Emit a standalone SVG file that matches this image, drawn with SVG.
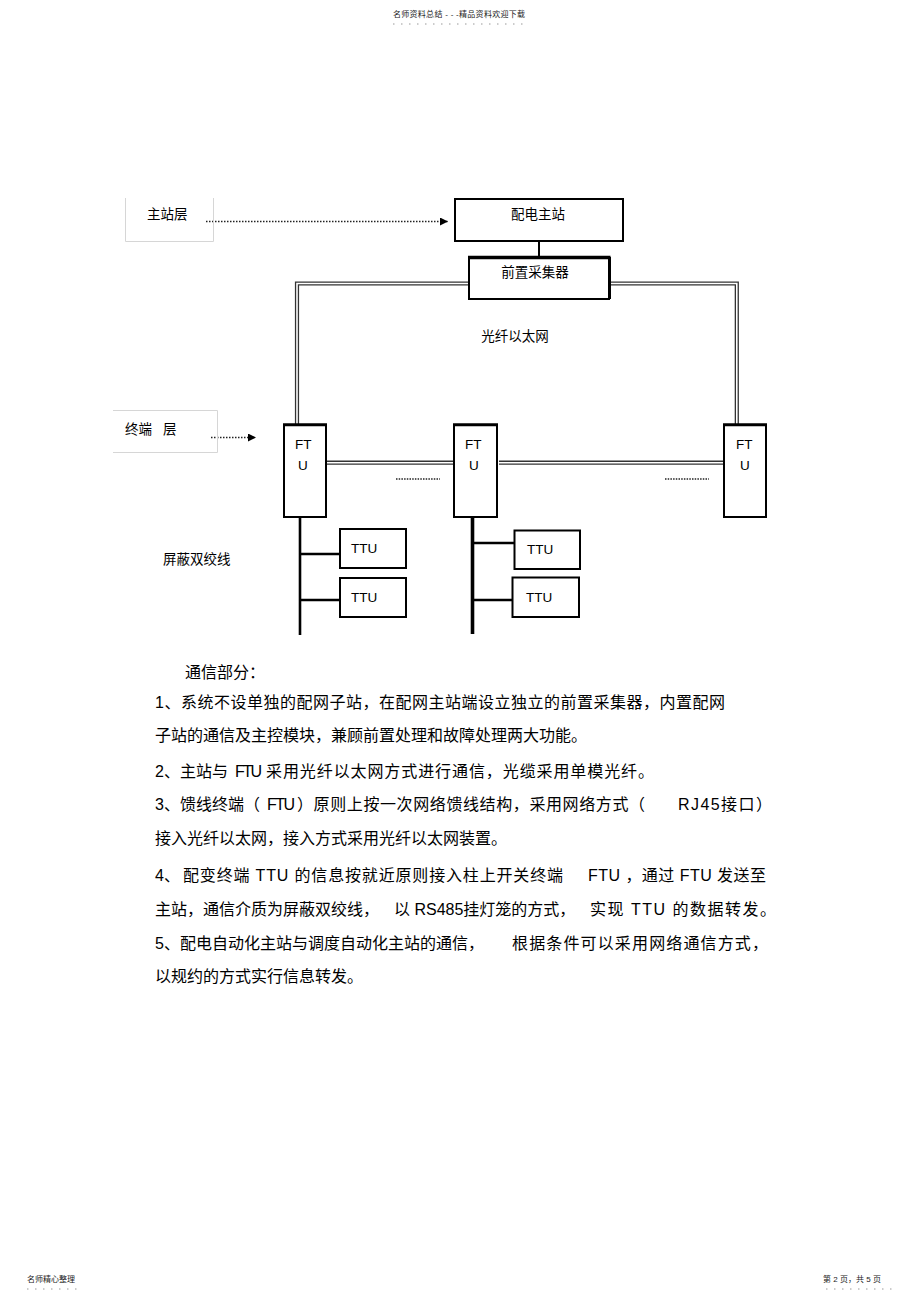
<svg xmlns="http://www.w3.org/2000/svg" width="920" height="1301" viewBox="0 0 920 1301">
<defs>
<marker id="arr" viewBox="0 0 10 10" refX="10" refY="5" markerWidth="8" markerHeight="8" markerUnits="userSpaceOnUse" orient="auto">
<path d="M0,0 L10,5 L0,10 Z" fill="#000"/>
</marker>
<style>
text{font-family:"Liberation Sans","Noto Sans CJK SC",sans-serif;fill:#000}
.lbl{font-size:13.5px}
.body{font-size:16px}
.tiny{font-size:8px;fill:#222}
.box{fill:#fff;stroke:#000;stroke-width:2}
.faint{fill:none;stroke:#d6d6d6;stroke-width:1}
.dot{fill:none;stroke:#222;stroke-width:1.4;stroke-dasharray:1.5 1.5}
.fib{fill:none;stroke:#333;stroke-width:4.2}
.fibw{fill:none;stroke:#fff;stroke-width:1.6}
.bus{fill:none;stroke:#000;stroke-width:2.6}
.dots{fill:none;stroke:#999;stroke-width:1;stroke-dasharray:1.5 6.5}
</style>
</defs>
<rect width="920" height="1301" fill="#fff"/>

<!-- header / footer -->
<g id="header">
<text class="tiny" x="393" y="17" textLength="132">名师资料总结 - - -精品资料欢迎下载</text>
<line class="dots" x1="393" y1="24" x2="528" y2="24"/>
</g>
<g id="footer">
<text class="tiny" x="27" y="1282" textLength="48">名师精心整理</text>
<line class="dots" x1="27" y1="1289" x2="77" y2="1289"/>
<text class="tiny" x="823" y="1282" textLength="58">第 2 页，共 5 页</text>
<line class="dots" x1="826" y1="1289" x2="892" y2="1289"/>
</g>

<!-- connectors -->
<g id="connectors">
<line class="dot" x1="206" y1="221.5" x2="448" y2="221.5" marker-end="url(#arr)"/>
<line class="dot" x1="211" y1="437.5" x2="256" y2="437.5" marker-end="url(#arr)"/>
<line x1="539" y1="241" x2="539" y2="257" stroke="#000" stroke-width="2"/>
<path class="fib" d="M472,283.5 H297 V426"/>
<path class="fibw" d="M472,283.5 H297 V426"/>
<path class="fib" d="M607,283.5 H736.8 V426"/>
<path class="fibw" d="M607,283.5 H736.8 V426"/>
<path class="fib" d="M327,462.7 H459"/>
<path class="fibw" d="M327,462.7 H459"/>
<path class="fib" d="M499,462.7 H726"/>
<path class="fibw" d="M499,462.7 H726"/>
<line x1="396" y1="479" x2="440" y2="479" stroke="#222" stroke-width="1.4" stroke-dasharray="1.5 1.2"/>
<line x1="665" y1="479" x2="709" y2="479" stroke="#222" stroke-width="1.4" stroke-dasharray="1.5 1.2"/>
<path class="bus" d="M300,517 V635 M300,554 H339 M300,600 H339"/>
<path fill="none" stroke="#000" stroke-width="3.6" d="M472.5,517 V634"/>
<path class="bus" d="M472,543 H514 M472,600 H512"/>
</g>

<!-- layer labels -->
<g id="layer-main">
<path class="faint" d="M125.5,198 V241.5 H213.5 V198"/>
<text class="lbl" x="147" y="219">主站层</text>
</g>
<g id="layer-term">
<path class="faint" d="M113,410.5 H217.5 V452.5 H113"/>
<text class="lbl" x="125" y="434">终端</text>
<text class="lbl" x="163" y="434">层</text>
</g>

<!-- nodes -->
<g id="master">
<rect class="box" x="455" y="199" width="168" height="42"/>
<text class="lbl" x="538" y="219" text-anchor="middle">配电主站</text>
</g>
<g id="collector">
<rect class="box" x="469" y="257.5" width="140" height="41.5"/>
<line x1="468" y1="257.5" x2="610.5" y2="257.5" stroke="#000" stroke-width="3.5"/>
<line x1="609.5" y1="257" x2="609.5" y2="299" stroke="#000" stroke-width="3"/>
<text class="lbl" x="535" y="277" text-anchor="middle">前置采集器</text>
</g>
<g id="fiber-label">
<text class="lbl" x="515" y="341" text-anchor="middle">光纤以太网</text>
</g>
<g id="ftu1">
<rect class="box" x="284" y="425" width="42" height="92"/>
<line x1="283" y1="424.8" x2="327" y2="424.8" stroke="#000" stroke-width="3"/>
<text class="lbl" x="295" y="449">FT</text>
<text class="lbl" x="298" y="470">U</text>
</g>
<g id="ftu2">
<rect class="box" x="454" y="425" width="43" height="92"/>
<line x1="453" y1="424.8" x2="498" y2="424.8" stroke="#000" stroke-width="3"/>
<text class="lbl" x="465" y="449">FT</text>
<text class="lbl" x="469" y="470">U</text>
</g>
<g id="ftu3">
<rect class="box" x="724" y="425" width="42" height="92"/>
<line x1="723" y1="424.8" x2="767" y2="424.8" stroke="#000" stroke-width="3"/>
<text class="lbl" x="736" y="449">FT</text>
<text class="lbl" x="740" y="470">U</text>
</g>
<g id="ttu1a">
<rect class="box" x="340" y="529" width="66" height="39" stroke-width="2.4"/>
<text class="lbl" x="351" y="553">TTU</text>
</g>
<g id="ttu1b">
<rect class="box" x="340" y="578" width="66" height="39" stroke-width="2.4"/>
<text class="lbl" x="351" y="602">TTU</text>
</g>
<g id="ttu2a">
<rect class="box" x="514.5" y="530.5" width="65.5" height="38.5"/>
<text class="lbl" x="527" y="554">TTU</text>
</g>
<g id="ttu2b">
<rect class="box" x="512.5" y="577.5" width="66.5" height="39.5"/>
<text class="lbl" x="526" y="602">TTU</text>
</g>
<g id="twisted-label">
<text class="lbl" x="163" y="564">屏蔽双绞线</text>
</g>

<!-- body text -->
<g id="body">
<text class="body" x="185" y="678">通信部分：</text>
<text class="body" x="155" y="708" textLength="570">1、系统不设单独的配网子站，在配网主站端设立独立的前置采集器，内置配网</text>
<text class="body" x="155" y="741">子站的通信及主控模块，兼顾前置处理和故障处理两大功能。</text>
<text class="body" x="155" y="777">2、主站与</text>
<text class="body" x="235" y="777" textLength="27">FTU</text>
<text class="body" x="266" y="777" textLength="388">采用光纤以太网方式进行通信，光缆采用单模光纤。</text>
<text class="body" x="155" y="810">3、馈线终端（</text>
<text class="body" x="267" y="810" textLength="28">FTU</text>
<text class="body" x="297" y="810" textLength="348">）原则上按一次网络馈线结构，采用网络方式（</text>
<text class="body" x="678" y="810" textLength="94">RJ45接口）</text>
<text class="body" x="155" y="844">接入光纤以太网，接入方式采用光纤以太网装置。</text>
<text class="body" x="155" y="881">4、</text>
<text class="body" x="183" y="881" textLength="380">配变终端 TTU 的信息按就近原则接入柱上开关终端</text>
<text class="body" x="588" y="881" textLength="178">FTU ，通过 FTU 发送至</text>
<text class="body" x="155" y="915">主站，通信介质为屏蔽双绞线，</text>
<text class="body" x="394" y="915">以 RS485挂灯笼的方式，</text>
<text class="body" x="590" y="915" textLength="186">实现 TTU 的数据转发。</text>
<text class="body" x="155" y="949">5、配电自动化主站与调度自动化主站的通信，</text>
<text class="body" x="512" y="949" textLength="256">根据条件可以采用网络通信方式，</text>
<text class="body" x="155" y="982">以规约的方式实行信息转发。</text>
</g>
</svg>
